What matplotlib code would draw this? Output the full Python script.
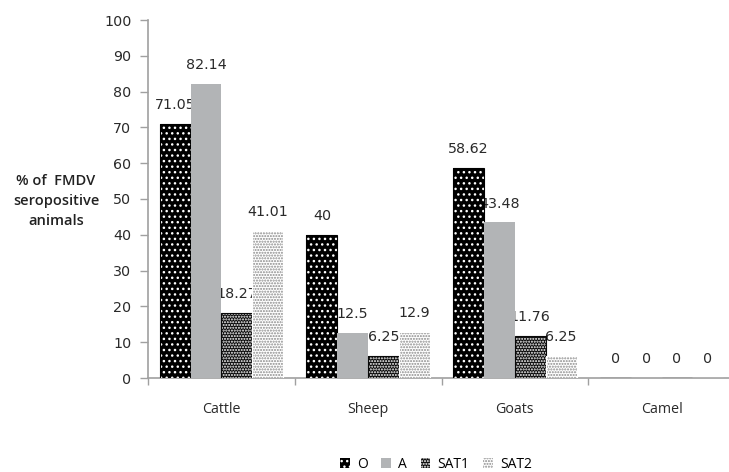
import numpy as np
import matplotlib
matplotlib.use("Agg")
import matplotlib.pyplot as plt
from matplotlib.patches import Patch

# Seroprevalence of FMDV serotypes by species (%)
species = ["Cattle", "Sheep", "Goats", "Camel"]
serotypes = ["O", "A", "SAT1", "SAT2"]
sero_O = [71.05, 40, 58.62, 0]
sero_A = [82.14, 12.5, 43.48, 0]
sero_SAT1 = [18.27, 6.25, 11.76, 0]
sero_SAT2 = [41.01, 12.9, 6.25, 0]
label_O = ["71.05", "40", "58.62", "0"]
label_A = ["82.14", "12.5", "43.48", "0"]
label_SAT1 = ["18.27", "6.25", "11.76", "0"]
label_SAT2 = ["41.01", "12.9", "6.25", "0"]
y_ticks = [0, 10, 20, 30, 40, 50, 60, 70, 80, 90, 100]

series = [sero_O, sero_A, sero_SAT1, sero_SAT2]
labels = [label_O, label_A, label_SAT1, label_SAT2]

# face colour, hatch colour, hatch pattern, outline colour
styles = [
    ("#000000", "#ffffff", "...", "#000000"),
    ("#b2b4b6", None, "", "#b2b4b6"),
    ("#0a0a0a", "#ffffff", "......", "#0a0a0a"),
    ("#ffffff", "#8a8a8a", "......", "#ffffff"),
]

plt.rcParams["hatch.linewidth"] = 1.0

fig = plt.figure(figsize=(7.29, 4.72), dpi=100)
ax = fig.add_axes([148 / 729, 1 - 378 / 472, (735 - 148) / 729, (378 - 20) / 472])

x = np.arange(len(species))
bw = 0.21
offsets = (np.arange(4) - 1.5) * bw

handles = []
for s, (vals, labs, (fc, hc, hatch, ec)) in enumerate(zip(series, labels, styles)):
    pos = x + offsets[s]
    if hatch:
        ax.bar(pos, vals, bw, color=fc, edgecolor=hc, hatch=hatch, linewidth=0, zorder=3)
        ax.bar(pos, vals, bw, facecolor="none", edgecolor=ec, linewidth=0.8, zorder=3)
    else:
        ax.bar(pos, vals, bw, color=fc, linewidth=0, zorder=3)
    for xp, v, t in zip(pos, vals, labs):
        ax.annotate(t, (xp, v), xytext=(0, 13.5), textcoords="offset points",
                    ha="center", va="center", fontsize=10.3, color="#2a2a2a",
                    family="DejaVu Sans", zorder=1)
    handles.append(Patch(facecolor=fc, edgecolor=hc if hc else fc,
                         hatch=hatch, linewidth=0))

ax.set_xlim(-0.5, 3.5)
ax.set_ylim(0, 100)
ax.set_yticks(y_ticks)
ax.set_yticklabels([str(t) for t in y_ticks], fontsize=10.3, color="#2a2a2a",
                   family="DejaVu Sans")
ax.set_xticks(x)
ax.set_xticklabels(species, fontsize=10.3, family="Open Sans", color="#2a2a2a")
ax.set_xticks(np.arange(0, 4) - 0.5, minor=True)
ax.tick_params(axis="x", which="major", length=0, pad=17)
ax.tick_params(axis="x", which="minor", length=5, color="#a0a0a0", width=1)
ax.tick_params(axis="y", length=6, color="#a0a0a0", width=1, pad=6)

for side in ["top", "right"]:
    ax.spines[side].set_visible(False)
for side in ["left", "bottom"]:
    ax.spines[side].set_color("#a0a0a0")
    ax.spines[side].set_linewidth(1.2)

fig.text(56 / 729, 1 - 201 / 472, "% of  FMDV\nseropositive\nanimals",
         ha="center", va="center", fontsize=10.5, family="Open Sans",
         fontweight="semibold", color="#222222", linespacing=1.55)

fig.legend(handles, serotypes, loc="center", bbox_to_anchor=(436 / 729, 1 - 464 / 472),
           ncol=4, frameon=False, handlelength=0.7, handleheight=0.7,
           handletextpad=0.5, columnspacing=1.0,
           prop={"family": "Open Sans", "size": 10})

fig.savefig("out.png", dpi=100)
